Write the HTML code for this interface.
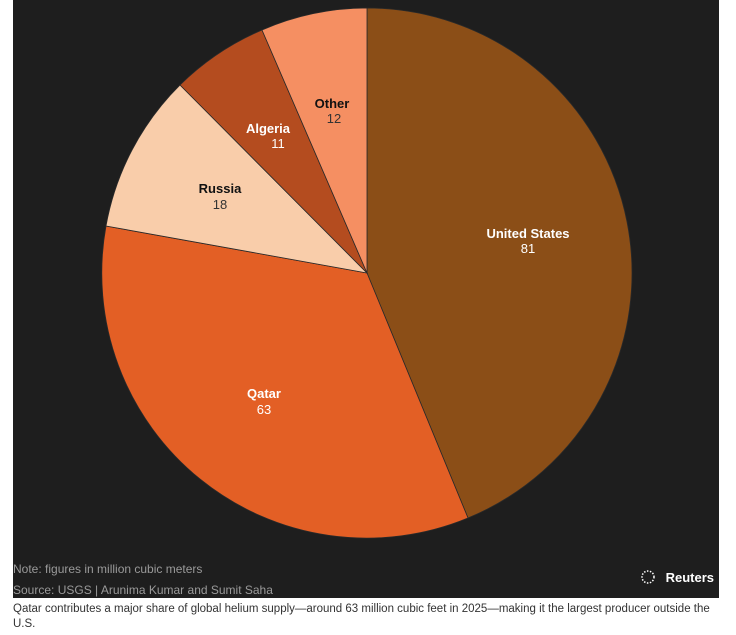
<!DOCTYPE html>
<html><head><meta charset="utf-8"><style>
body{margin:0;width:736px;height:635px;background:#fff;overflow:hidden;font-family:"Liberation Sans",sans-serif;}
.dark{position:absolute;left:13px;top:0;width:706px;height:598px;background:#1e1e1e;}
.t{position:absolute;font-size:12px;color:#9a9a9a;}
</style></head><body>
<div class="dark"></div>
<svg width="736" height="598" style="position:absolute;left:0;top:0" font-family="Liberation Sans, sans-serif">
<g stroke="#2a2a2a" stroke-width="0.8">
<path d="M367,273 L367,8 A265,265 0 0 1 468,518 Z" fill="#8B4E17"/>
<path d="M367,273 L468,518 A265,265 0 0 1 106,226 Z" fill="#E35F25"/>
<path d="M367,273 L106,226 A265,265 0 0 1 180,85 Z" fill="#F9CDAA"/>
<path d="M367,273 L180,85 A265,265 0 0 1 262,30 Z" fill="#B44C1F"/>
<path d="M367,273 L262,30 A265,265 0 0 1 367,8 Z" fill="#F58F62"/>
</g>
<g text-anchor="middle" font-size="13">
<text x="528" y="238" fill="#fff" font-weight="bold">United States</text>
<text x="528" y="253" fill="#fff">81</text>
<text x="264" y="398" fill="#fff" font-weight="bold">Qatar</text>
<text x="264" y="414" fill="#fff">63</text>
<text x="220" y="193" fill="#111" font-weight="bold">Russia</text>
<text x="220" y="209" fill="#333">18</text>
<text x="268" y="133" fill="#fff" font-weight="bold">Algeria</text>
<text x="278" y="148" fill="#fff">11</text>
<text x="332" y="108" fill="#111" font-weight="bold">Other</text>
<text x="334" y="123" fill="#333">12</text>
</g>
<text x="714" y="582" fill="#fff" font-size="13" font-weight="bold" text-anchor="end">Reuters</text>
<circle cx="648" cy="577" r="6" fill="none" stroke="#fff" stroke-width="1.5" stroke-dasharray="1.5 1.5"/>
</svg>
<div class="t" style="left:13px;top:562px">Note: figures in million cubic meters</div>
<div class="t" style="left:13px;top:583px">Source: USGS | Arunima Kumar and Sumit Saha</div>
<div style="position:absolute;left:13px;top:602px;width:700px;font-size:11.5px;line-height:15px;color:#333">Qatar contributes a major share of global helium supply—around 63 million cubic feet in 2025—making it the largest producer outside the U.S.</div>
</body></html>
